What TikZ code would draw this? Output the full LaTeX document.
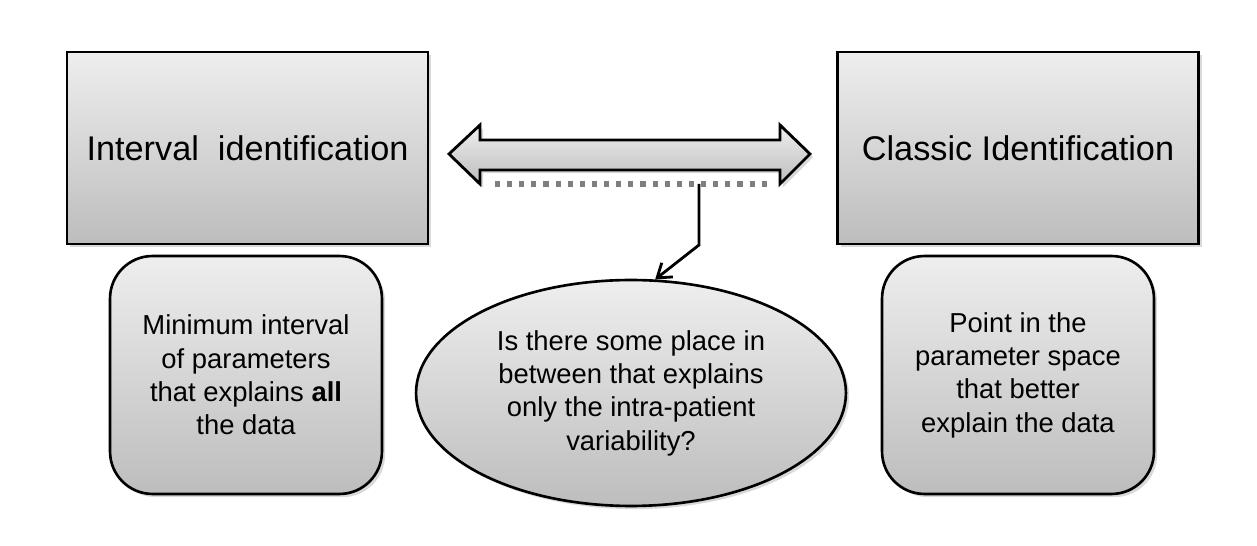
\documentclass[tikz,border=0pt]{standalone}
\usepackage{fontspec}
\setmainfont{Liberation Sans}
\usetikzlibrary{positioning,shapes.geometric,shadows,arrows.meta}
\definecolor{shadetop}{HTML}{EEEEEE}
\definecolor{shadebot}{HTML}{BDBDBD}
\definecolor{dotgray}{HTML}{7F7F7F}

\tikzset{
  softshadow/.style={drop shadow={shadow xshift=1.8pt,shadow yshift=-1.8pt,opacity=0.3}},
  idbox/.style={draw=black,line width=1.6pt,top color=shadetop,bottom color=shadebot,
    softshadow,minimum width=7.22cm,minimum height=3.84cm,
    font=\fontsize{19.5}{23}\selectfont},
  notebox/.style={draw=black,line width=1.5pt,top color=shadetop,bottom color=shadebot,
    softshadow,rounded corners=0.85cm,minimum width=5.44cm,minimum height=4.76cm,
    align=center,font=\fontsize{15.6}{19}\selectfont},
  question/.style={ellipse,draw=black,line width=1.5pt,top color=shadetop,bottom color=shadebot,
    softshadow,minimum width=8.6cm,minimum height=4.52cm,inner sep=0pt,
    align=center,font=\fontsize{15.6}{19}\selectfont}
}

\begin{document}
\begin{tikzpicture}[x=0.02cm,y=-0.02cm]
  \useasboundingbox (0,0) rectangle (1257,546);
  % the two kinds of identification
  \node[idbox] (interval) at (247.5,148) {Interval\ \ identification};
  \node[idbox] (classic) at (1018,148) {Classic Identification};
  \node[notebox] (intnote) at (246,375) {Minimum interval\\of parameters\\that explains \textbf{all}\\the data};
  \node[notebox] (clanote) at (1018,375) {Point in the\\parameter space\\that better\\explain the data};
  \node[question] (quest) at (631,393) {Is there some place in\\between that explains\\only the intra-patient\\variability?};
  % double arrow between them
  \filldraw[draw=black,line width=1.6pt,top color=shadetop,bottom color=shadebot,softshadow,line join=miter]
    (449,154) -- (480,125) -- (480,140) -- (780,140) -- (780,125) -- (810,154)
    -- (780,184) -- (780,170) -- (480,170) -- (480,184) -- cycle;
  \coordinate (dotl) at (495,184);
  \coordinate (dotr) at (767,184);
  \draw[dotgray,line width=2.9pt,dash pattern=on 2.9pt off 4pt] (dotl) -- (dotr);
  \coordinate (tap) at (699,184);
  \coordinate (bend) at (699,245);
  \draw[line width=1.6pt,-{Straight Barb[length=2.6mm,width=3.6mm]}] (tap) -- (bend) -- (quest.78);
\end{tikzpicture}
\end{document}
